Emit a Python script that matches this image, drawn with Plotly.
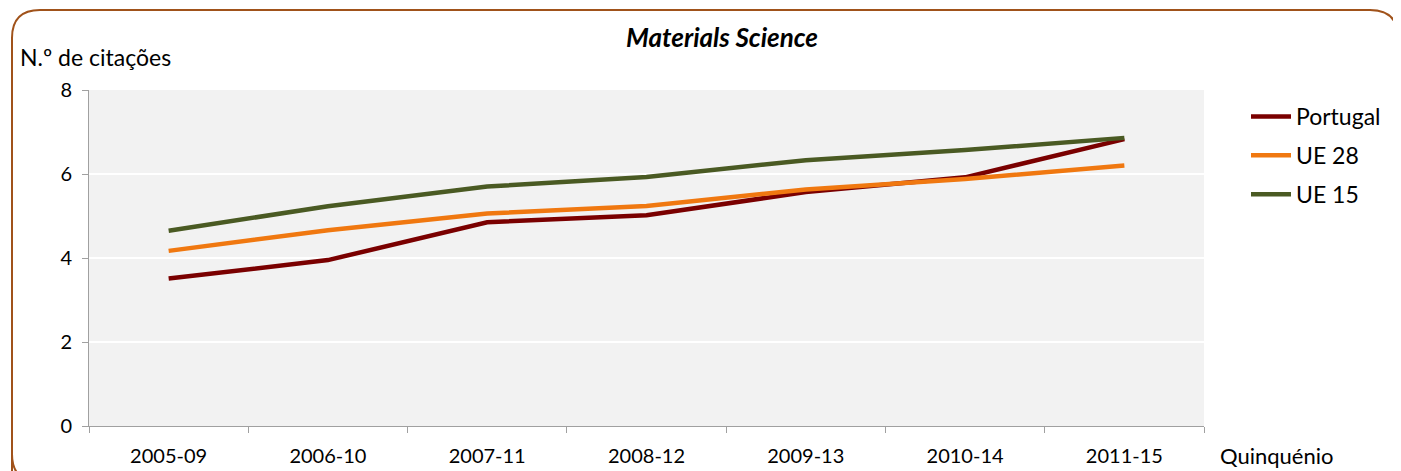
import plotly.graph_objects as go

categories = ["2005-09", "2006-10", "2007-11", "2008-12", "2009-13", "2010-14", "2011-15"]
portugal = [3.51, 3.95, 4.85, 5.02, 5.57, 5.92, 6.83]
ue28 = [4.17, 4.66, 5.06, 5.24, 5.63, 5.88, 6.20]
ue15 = [4.65, 5.23, 5.70, 5.93, 6.33, 6.57, 6.86]
y_ticks = [0, 2, 4, 6, 8]

OFF = 8  # page body margin
W, H = 1401 - OFF, 471 - OFF
PL, PR, PT, PB = 89, 1204, 90, 426  # plot area in page pixels
L, R, T, B = PL - OFF, W - (PR - OFF), PT - OFF, H - (PB - OFF)
PW, PH = PR - PL, PB - PT

def px(x):
    return (x - PL) / PW

def py(y):
    return (PB - y) / PH

FONT = "Lato"

fig = go.Figure()
series = [("Portugal", portugal, "#7a0000"), ("UE 28", ue28, "#f07810"), ("UE 15", ue15, "#4a5a23")]
for name, vals, col in series:
    fig.add_trace(go.Scatter(x=categories, y=vals, name=name, mode="lines", legendgroup=name,
                             line=dict(color=col, width=4.5)))

# rounded border
x0, x1, y0, y1, r = 12, 1398, 10, 482, 28
path = (f"M {px(x0)},{py(y1)} L {px(x0)},{py(y0 + r)} "
        f"Q {px(x0)},{py(y0)} {px(x0 + r)},{py(y0)} "
        f"L {px(x1 - r)},{py(y0)} Q {px(x1)},{py(y0)} {px(x1)},{py(y0 + r)} "
        f"L {px(x1)},{py(y1 - r)} Q {px(x1)},{py(y1)} {px(x1 - r)},{py(y1)} "
        f"L {px(x0 + r)},{py(y1)} Q {px(x0)},{py(y1)} {px(x0)},{py(y1 - r)} Z")
fig.add_shape(type="path", path=path, xref="paper", yref="paper",
              line=dict(color="#a0521a", width=2), layer="below")

fig.update_layout(
    width=W, height=H,
    margin=dict(l=L, r=R, t=T, b=B, autoexpand=False),
    paper_bgcolor="white", plot_bgcolor="#f2f2f2",
    font=dict(family=FONT, size=20, color="black"),
    title=dict(text="<b><i>Materials Science</i></b>", xref="container", x=(722 - OFF) / W,
               xanchor="center", y=1 - (38 - OFF) / H, yanchor="middle",
               font=dict(size=26, family=FONT)),
    showlegend=True,
    legend=dict(x=px(1246), y=py(95), xanchor="left", yanchor="top",
                font=dict(size=23, family=FONT), bgcolor="rgba(0,0,0,0)",
                traceorder="grouped", tracegroupgap=6, itemwidth=40),
    xaxis=dict(type="category", showgrid=False, showline=True, linecolor="#a0a0a0", linewidth=1,
               ticks="outside", ticklen=6, tickcolor="#a0a0a0", tickson="boundaries",
               range=[-0.5, 6.5], zeroline=False, ticklabelstandoff=12, automargin=False),
    yaxis=dict(range=[0, 8], tickvals=y_ticks, showgrid=True, gridcolor="white", gridwidth=2,
               showline=True, linecolor="#a0a0a0", linewidth=1, ticks="outside", ticklen=6,
               tickcolor="#a0a0a0", zeroline=False, ticklabelstandoff=6, automargin=False),
    annotations=[
        dict(text="N.º de citações", x=px(18), y=py(57), xref="paper", yref="paper",
             xanchor="left", yanchor="middle", showarrow=False, font=dict(size=23, family=FONT)),
        dict(text="Quinquénio", x=px(1218), y=py(455), xref="paper", yref="paper",
             xanchor="left", yanchor="middle", showarrow=False, font=dict(size=22, family=FONT)),
    ],
)

fig.write_html("out.html")
